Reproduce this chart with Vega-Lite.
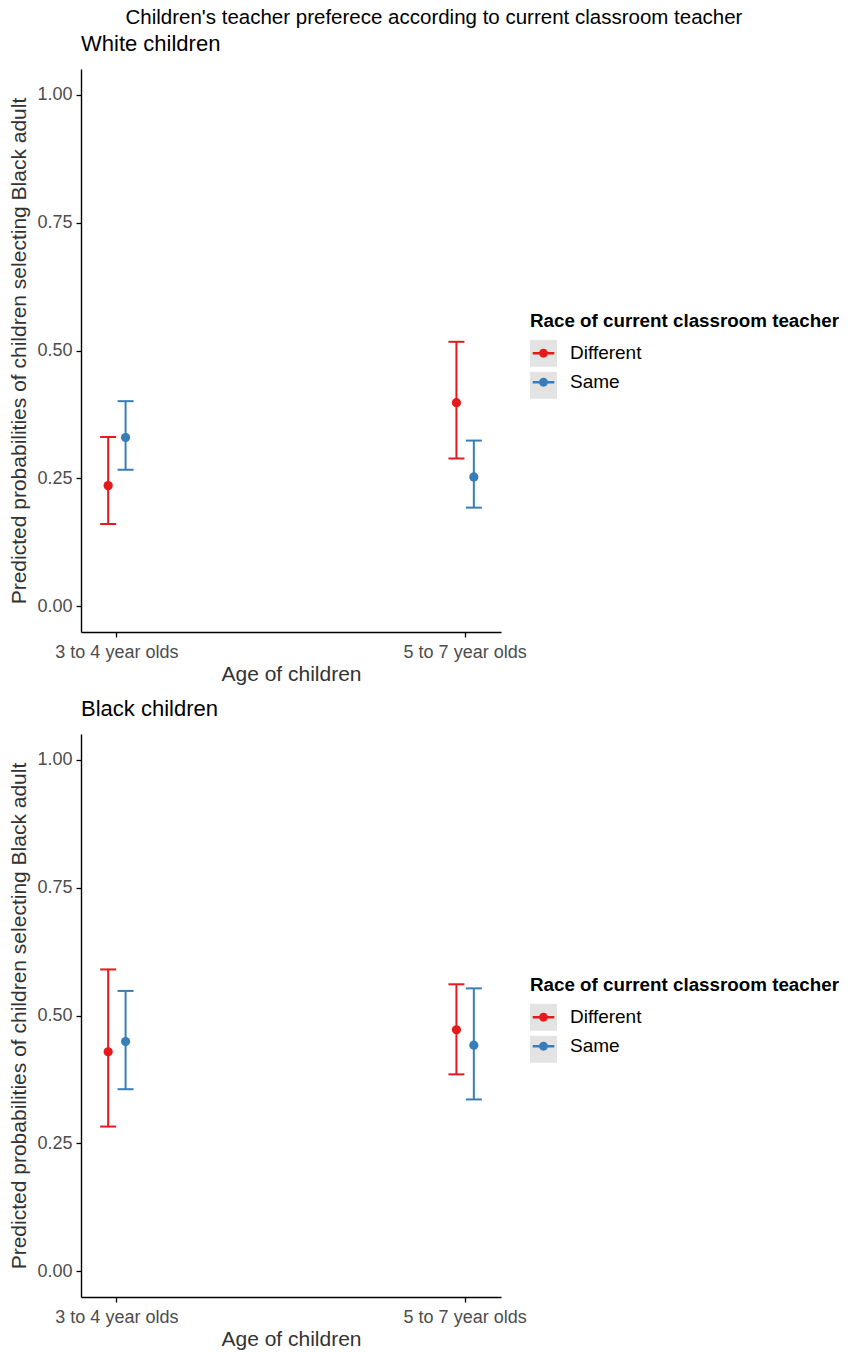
{
  "$schema": "https://vega.github.io/schema/vega-lite/v6.json",
  "padding": {"left": 8, "top": 7, "right": 0, "bottom": 2},
  "background": "white",
  "title": {
    "text": "Children's teacher preferece according to current classroom teacher",
    "anchor": "middle",
    "fontSize": 20.5,
    "fontWeight": "normal",
    "font": "Liberation Sans",
    "color": "black",
    "offset": 5,
    "dx": 10
  },
  "config": {
    "font": "Liberation Sans",
    "view": {"stroke": null},
    "axis": {
      "domainColor": "black",
      "domainWidth": 1.4,
      "tickColor": "black",
      "tickWidth": 1.3,
      "tickSize": 5,
      "grid": false,
      "labelColor": "#4d4d4d",
      "labelFontSize": 18,
      "labelFont": "Liberation Sans",
      "titleFont": "Liberation Sans",
      "titleFontSize": 21,
      "titleFontWeight": "normal",
      "titleColor": "#333333"
    },
    "legend": {
      "titleFont": "Liberation Sans",
      "labelFont": "Liberation Sans",
      "titleFontSize": 18.8,
      "labelFontSize": 19,
      "titleColor": "black",
      "labelColor": "black",
      "titleLimit": 0,
      "labelLimit": 0
    }
  },
  "datasets": {
    "white": [
      {"age": "3 to 4 year olds", "teacher": "Different", "p": 0.236, "lo": 0.161, "hi": 0.331},
      {"age": "3 to 4 year olds", "teacher": "Same", "p": 0.330, "lo": 0.267, "hi": 0.401},
      {"age": "5 to 7 year olds", "teacher": "Different", "p": 0.398, "lo": 0.289, "hi": 0.517},
      {"age": "5 to 7 year olds", "teacher": "Same", "p": 0.253, "lo": 0.193, "hi": 0.324}
    ],
    "black": [
      {"age": "3 to 4 year olds", "teacher": "Different", "p": 0.429, "lo": 0.283, "hi": 0.590},
      {"age": "3 to 4 year olds", "teacher": "Same", "p": 0.449, "lo": 0.356, "hi": 0.548},
      {"age": "5 to 7 year olds", "teacher": "Different", "p": 0.472, "lo": 0.385, "hi": 0.561},
      {"age": "5 to 7 year olds", "teacher": "Same", "p": 0.442, "lo": 0.336, "hi": 0.553}
    ]
  },
  "spacing": 14,
  "resolve": {"legend": {"color": "independent", "shape": "independent"}, "scale": {"color": "independent", "shape": "independent"}},
  "vconcat": [
    {
      "title": {"text": "White children", "anchor": "start", "frame": "group", "fontSize": 22, "fontWeight": "normal", "color": "black", "offset": 13},
      "width": 420,
      "height": 563,
      "data": {"name": "white"},
      "encoding": {
        "x": {"field": "age", "type": "nominal", "scale": {"type": "band", "paddingInner": 0.9, "paddingOuter": 0.053}, "axis": {"title": "Age of children", "labelAngle": 0, "labelPadding": 6, "titlePadding": 2}},
        "xOffset": {"field": "teacher", "type": "nominal", "scale": {"paddingInner": 0, "paddingOuter": 0}},
        "color": {"field": "teacher", "type": "nominal", "scale": {"domain": ["Different", "Same"], "range": ["#E41A1C", "#377EB8"]}}
      },
      "layer": [
        {
          "mark": {"type": "point", "opacity": 0, "filled": true},
          "encoding": {
            "y": {"field": "p", "type": "quantitative"},
            "color": {"value": "#e3e3e3"},
            "shape": {"field": "teacher", "type": "nominal", "scale": {"domain": ["Different ", "Same "], "range": ["square", "square"]},
              "legend": {"title": " ", "orient": "none", "legendX": 449, "legendY": 243, "zindex": 0,
                "symbolSize": 729, "symbolFillColor": "#e3e3e3", "symbolStrokeColor": "#e3e3e3", "symbolStrokeWidth": 0, "symbolOpacity": 1,
                "rowPadding": 5, "titlePadding": 9, "labelOffset": 13, "labelExpr": "''"}}
          }
        },
        {
          "mark": {"type": "rule", "strokeWidth": 2, "opacity": 1},
          "encoding": {
            "y": {"field": "lo", "type": "quantitative", "scale": {"domain": [-0.05, 1.05], "nice": false, "zero": false}, "axis": {"values": [0, 0.25, 0.5, 0.75, 1], "format": ".2f", "title": "Predicted probabilities of children selecting Black adult", "labelPadding": 4, "titlePadding": 7}},
            "y2": {"field": "hi"}
          }
        },
        {
          "mark": {"type": "tick", "orient": "horizontal", "size": 16, "thickness": 2, "opacity": 1},
          "encoding": {"y": {"field": "hi", "type": "quantitative"}}
        },
        {
          "mark": {"type": "tick", "orient": "horizontal", "size": 16, "thickness": 2, "opacity": 1},
          "encoding": {"y": {"field": "lo", "type": "quantitative"}}
        },
        {
          "mark": {"type": "point", "filled": true, "opacity": 1, "size": 85},
          "encoding": {
            "y": {"field": "p", "type": "quantitative"},
            "color": {"field": "teacher", "type": "nominal", "scale": {"domain": ["Different", "Same"], "range": ["#E41A1C", "#377EB8"]},
              "legend": {"title": "Race of current classroom teacher", "orient": "none", "legendX": 449, "legendY": 243, "zindex": 1,
                "symbolType": "M-0.8,-0.09H0.8V0.09H-0.8Z M0.33,0 A0.33,0.33 0 1 1 -0.33,0 A0.33,0.33 0 1 1 0.33,0Z",
                "symbolSize": 729, "symbolStrokeWidth": 0, "symbolOpacity": 1, "rowPadding": 5, "titlePadding": 9, "labelOffset": 13}}
          }
        }
      ]
    },
    {
      "title": {"text": "Black children", "anchor": "start", "frame": "group", "fontSize": 22, "fontWeight": "normal", "color": "black", "offset": 13},
      "width": 420,
      "height": 563,
      "data": {"name": "black"},
      "encoding": {
        "x": {"field": "age", "type": "nominal", "scale": {"type": "band", "paddingInner": 0.9, "paddingOuter": 0.053}, "axis": {"title": "Age of children", "labelAngle": 0, "labelPadding": 6, "titlePadding": 2}},
        "xOffset": {"field": "teacher", "type": "nominal", "scale": {"paddingInner": 0, "paddingOuter": 0}},
        "color": {"field": "teacher", "type": "nominal", "scale": {"domain": ["Different", "Same"], "range": ["#E41A1C", "#377EB8"]}}
      },
      "layer": [
        {
          "mark": {"type": "point", "opacity": 0, "filled": true},
          "encoding": {
            "y": {"field": "p", "type": "quantitative"},
            "color": {"value": "#e3e3e3"},
            "shape": {"field": "teacher", "type": "nominal", "scale": {"domain": ["Different ", "Same "], "range": ["square", "square"]},
              "legend": {"title": " ", "orient": "none", "legendX": 449, "legendY": 242, "zindex": 0,
                "symbolSize": 729, "symbolFillColor": "#e3e3e3", "symbolStrokeColor": "#e3e3e3", "symbolStrokeWidth": 0, "symbolOpacity": 1,
                "rowPadding": 5, "titlePadding": 9, "labelOffset": 13, "labelExpr": "''"}}
          }
        },
        {
          "mark": {"type": "rule", "strokeWidth": 2, "opacity": 1},
          "encoding": {
            "y": {"field": "lo", "type": "quantitative", "scale": {"domain": [-0.05, 1.05], "nice": false, "zero": false}, "axis": {"values": [0, 0.25, 0.5, 0.75, 1], "format": ".2f", "title": "Predicted probabilities of children selecting Black adult", "labelPadding": 4, "titlePadding": 7}},
            "y2": {"field": "hi"}
          }
        },
        {
          "mark": {"type": "tick", "orient": "horizontal", "size": 16, "thickness": 2, "opacity": 1},
          "encoding": {"y": {"field": "hi", "type": "quantitative"}}
        },
        {
          "mark": {"type": "tick", "orient": "horizontal", "size": 16, "thickness": 2, "opacity": 1},
          "encoding": {"y": {"field": "lo", "type": "quantitative"}}
        },
        {
          "mark": {"type": "point", "filled": true, "opacity": 1, "size": 85},
          "encoding": {
            "y": {"field": "p", "type": "quantitative"},
            "color": {"field": "teacher", "type": "nominal", "scale": {"domain": ["Different", "Same"], "range": ["#E41A1C", "#377EB8"]},
              "legend": {"title": "Race of current classroom teacher", "orient": "none", "legendX": 449, "legendY": 242, "zindex": 1,
                "symbolType": "M-0.8,-0.09H0.8V0.09H-0.8Z M0.33,0 A0.33,0.33 0 1 1 -0.33,0 A0.33,0.33 0 1 1 0.33,0Z",
                "symbolSize": 729, "symbolStrokeWidth": 0, "symbolOpacity": 1, "rowPadding": 5, "titlePadding": 9, "labelOffset": 13}}
          }
        }
      ]
    }
  ]
}
